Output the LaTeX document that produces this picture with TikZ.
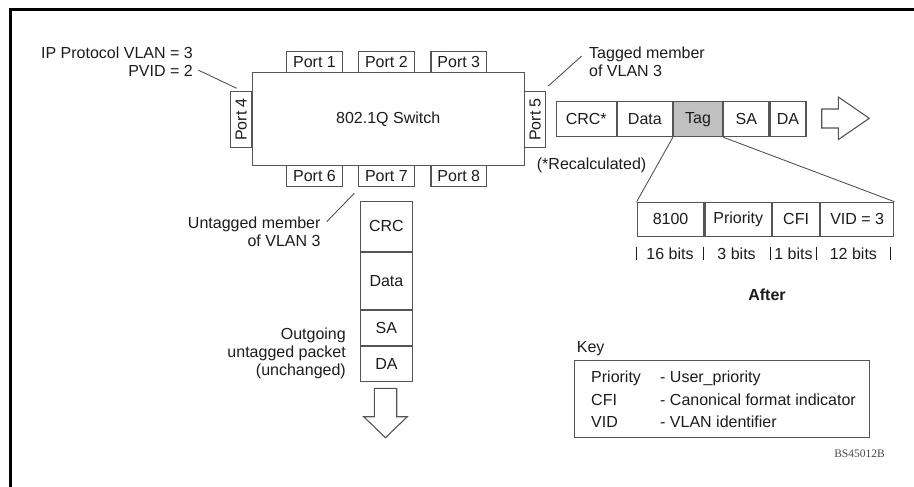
\documentclass[tikz,border=0pt]{standalone}
\usepackage{fontspec}
\setmainfont{Liberation Sans}
\newfontfamily\idfont{Liberation Serif}
\definecolor{ln}{HTML}{555555}
\definecolor{txt}{HTML}{1C1C1C}
\definecolor{tagfill}{HTML}{C0C0C0}
\begin{document}
\begin{tikzpicture}[x=1pt,y=-1pt,
  every node/.style={font=\fontsize{16}{18}\selectfont, text=txt, inner sep=0pt},
  box/.style={draw=ln, line width=1.1pt},
  portbox/.style={box, minimum width=55.6, minimum height=21},
  fieldbox/.style={box, minimum height=35},
  lead/.style={draw=ln, line width=0.9pt},
  tick/.style={draw=txt, line width=0.9pt},
  blockarrow/.style={draw=ln, line width=1.1pt, fill=white, line join=miter}]
\useasboundingbox (0,0) rectangle (914,487);

% frame edges
\draw[line width=2.2pt, black] (10.5,487) -- (10.5,9.5) -- (914,9.5);

% switch and its ports
\node[box, minimum width=271.7, minimum height=92.3] (sw) at (388.2,118.9) {802.1Q Switch};
\node[portbox, anchor=south] (p1) at (314.5,72.7) {Port 1};
\node[portbox, anchor=south] (p2) at (386.4,72.7) {Port 2};
\node[portbox, anchor=south] (p3) at (458.8,72.7) {Port 3};
\node[portbox, anchor=north] (p6) at (314.5,165.1) {Port 6};
\node[portbox, anchor=north] (p7) at (386.4,165.1) {Port 7};
\node[portbox, anchor=north] (p8) at (458.8,165.1) {Port 8};
\node[portbox, rotate=90, anchor=south] (p4) at (252.3,119.5) {Port 4};
\node[portbox, rotate=90, anchor=north] (p5) at (524.1,119.5) {Port 5};

% port 4 note
\node[align=right, anchor=east] (ipnote) at (193,61.5) {IP Protocol VLAN = 3\\PVID = 2};
\coordinate (ipa) at (198,70);
\coordinate (ipb) at (236.7,88.3);
\draw[lead] (ipa) -- (ipb);

% port 5 note
\node[align=left, anchor=west] (tagnote) at (589,62) {Tagged member\\of VLAN 3};
\coordinate (tga) at (581.7,56);
\coordinate (tgb) at (548.3,86);
\draw[lead] (tga) -- (tgb);

% tagged frame leaving port 5
\node[fieldbox, minimum width=60, anchor=west] (crc) at (555.7,119.2) {CRC*};
\node[fieldbox, minimum width=55, anchor=west] (data) at (crc.east) {Data};
\node[fieldbox, minimum width=49.3, anchor=west, fill=tagfill] (tag) at (data.east) {Tag};
\node[fieldbox, minimum width=45, anchor=west] (sa) at (tag.east) {SA};
\node[fieldbox, minimum width=36, anchor=west] (da) at (sa.east) {DA};
\draw[blockarrow] (821.7,109) -- (838.3,109) -- (838.3,97) -- (869.3,118.3)
  -- (838.3,139.6) -- (838.3,128) -- (821.7,128) -- cycle;

\node[anchor=west] (recalc) at (536.7,165.5) {(*Recalculated)};

% tag field breakdown
\node[fieldbox, minimum width=66.6, minimum height=34.3, anchor=north west] (f1) at (636.7,201.7) {8100};
\node[fieldbox, minimum width=66.7, minimum height=34.3, anchor=west] (f2) at (f1.east) {Priority};
\node[fieldbox, minimum width=46.7, minimum height=34.3, anchor=west] (f3) at (f2.east) {CFI};
\node[fieldbox, minimum width=73.3, minimum height=34.3, anchor=west] (f4) at (f3.east) {VID = 3};
\draw[lead] (tag.south west) -- (f1.north west);
\draw[lead] (tag.south east) -- (f4.north east);

% field widths
\foreach \x in {636.7,703.3,770,816.7,890}
  \draw[tick] (\x,246.7) -- (\x,260);
\node (b1) at (670,254) {16 bits};
\node (b2) at (736.6,254) {3 bits};
\node (b3) at (793.4,254) {1 bits};
\node (b4) at (853.4,254) {12 bits};

\node[font=\fontsize{16}{18}\selectfont\bfseries] (after) at (767,295) {After};

% untagged frame leaving port 7
\node[box, minimum width=52.7, minimum height=50.3, anchor=north] (vcrc) at (386.4,200.7) {CRC};
\node[box, minimum width=52.7, minimum height=56.7, anchor=north] (vdata) at (vcrc.south) {Data};
\node[box, minimum width=52.7, minimum height=35, anchor=north] (vsa) at (vdata.south) {SA};
\node[box, minimum width=52.7, minimum height=35, anchor=north] (vda) at (vsa.south) {DA};
\draw[blockarrow] (374.3,388.3) -- (396.7,388.3) -- (396.7,416.7) -- (407.3,416.7)
  -- (385.5,437.7) -- (363.7,416.7) -- (374.3,416.7) -- cycle;

\node[align=right, anchor=east] (untnote) at (320.7,231.5) {Untagged member\\of VLAN 3};
\coordinate (uta) at (326.7,221.7);
\coordinate (utb) at (354.3,193.3);
\draw[lead] (uta) -- (utb);

\node[align=right, anchor=east] (outnote) at (346,353.3) {Outgoing\\untagged packet\\(unchanged)};

% key
\node[anchor=west] (keylbl) at (576.7,348.3) {Key};
\node[box, minimum width=294.7, minimum height=76.7, anchor=north west] (key) at (574.3,360) {};
\node[anchor=west] (k1) at (591,378.3) {Priority};
\node[anchor=west] (k2) at (591,400) {CFI};
\node[anchor=west] (k3) at (591,421.7) {VID};
\node[anchor=west] (d1) at (660,378.3) {- User\_priority};
\node[anchor=west] (d2) at (660,400) {- Canonical format indicator};
\node[anchor=west] (d3) at (660,421.7) {- VLAN identifier};

\node[font=\idfont\fontsize{11.5}{13}\selectfont, text=txt!80] (fig) at (859.5,454) {BS45012B};
\end{tikzpicture}
\end{document}
